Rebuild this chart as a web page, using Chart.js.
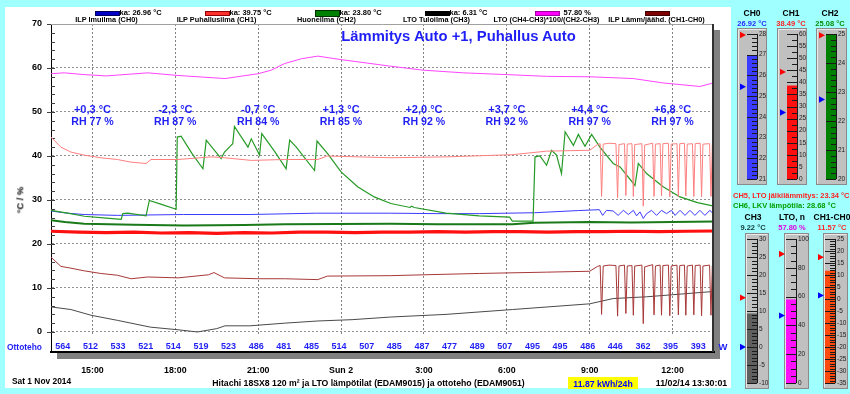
<!DOCTYPE html>
<html><head><meta charset="utf-8">
<script src="https://cdn.jsdelivr.net/npm/chart.js@4.4.1/dist/chart.umd.min.js"></script>
<style>
html,body{margin:0;padding:0;background:#a0ffff;width:850px;height:394px;overflow:hidden;font-family:"Liberation Sans",Arial,sans-serif;}
canvas{position:absolute;}
.t{position:absolute;white-space:nowrap;font-weight:bold;line-height:1;}
</style></head><body>
<canvas id="main" width="850" height="394" style="left:0;top:0;width:850px;height:394px"></canvas>
<div id="ov"></div>
<script>
// ---------- DATA ----------
const timeTickHours = [1.5, 4.5, 7.5, 10.5, 13.5, 16.5, 19.5, 22.5];
const timeTickLabels = ["15:00", "18:00", "21:00", "Sun 2", "3:00", "6:00", "9:00", "12:00"];
const outdoorTemp = ["+0,3 °C", "-2,3 °C", "-0,7 °C", "+1,3 °C", "+2,0 °C", "+3,7 °C", "+4,4 °C", "+6,8 °C"];
const outdoorRH = ["RH 77 %", "RH 87 %", "RH 84 %", "RH 85 %", "RH 92 %", "RH 92 %", "RH 97 %", "RH 97 %"];
const ottotehoW = [564, 512, 533, 521, 514, 519, 523, 486, 481, 485, 514, 507, 485, 487, 477, 489, 507, 495, 495, 486, 446, 362, 395, 393];
const yTickValues = [0,2,4,6,8,10,12,14,16,18,20,22,24,26,28,30,32,34,36,38,40,42,44,46,48,50,52,54,56,58,60,62,64,66,68,70];
const legendNames = ["ILP Imuilma (CH0)", "ILP Puhallusilma (CH1)", "Huoneilma (CH2)", "LTO Tuloilma (CH3)", "LTO (CH4-CH3)*100/(CH2-CH3)", "ILP Lämm/jäähd. (CH1-CH0)"];
const legendAverages = ["ka: 26.96 °C", "ka: 39.75 °C", "ka: 23.80 °C", "ka: 6.31 °C", "57.80 %", ""];

// hours since 13:30 Sat, value
const ch0 = [[0,27.5],[0.6,27.0],[1.2,26.7],[2.4,26.5],[4.8,26.7],[7.2,26.7],[9.6,27.0],[12.3,27.0],[14.0,26.9],[15.5,26.9],[17.5,27.1],[19.1,27.6],[19.85,27.8],[19.97,26.5],[20.11,27.65],[20.35,27.5],[20.53,26.5],[20.72,27.65],[20.9,26.7],[21.08,27.65],[21.2,26.4],[21.32,27.3],[21.44,25.8],[21.56,26.9],[21.74,27.65],[21.92,26.5],[22.1,27.65],[22.28,26.9],[22.46,27.65],[22.59,26.5],[22.77,27.65],[22.95,26.5],[23.13,27.65],[23.31,26.5],[23.49,27.65],[23.67,26.5],[23.85,27.65],[23.97,26.9]];
const ch1 = [[0,44.3],[0.36,42.0],[0.72,40.9],[1.2,40.2],[1.8,39.6],[2.4,39.2],[2.9,38.6],[3.44,38.3],[3.62,39.2],[4.6,39.2],[5.8,39.8],[6.28,39.6],[7.25,39.0],[8.45,39.2],[9.66,39.2],[10.0,40.0],[12.3,39.6],[14.3,39.8],[16.7,40.3],[17.94,41.1],[19.5,41.3],[19.78,42.6],
 [19.88,42.8],[19.93,30.8],[19.99,42.7],[20.2,42.9],[20.45,42.8],[20.51,30.5],[20.56,42.6],[20.76,42.8],[20.81,31.0],[20.86,42.7],[21.03,42.8],[21.08,30.8],[21.13,42.6],[21.39,42.8],[21.44,28.6],[21.49,42.5],[21.78,42.9],[21.83,30.8],[21.88,42.7],[22.05,42.8],[22.10,30.9],[22.15,42.8],[22.35,42.9],[22.40,30.7],[22.45,42.7],[22.66,42.8],[22.71,30.8],[22.76,42.8],[22.93,42.9],[22.98,30.9],[23.03,42.7],[23.22,42.8],[23.27,30.8],[23.32,42.8],[23.50,42.9],[23.55,30.7],[23.60,42.7],[23.84,42.8],[23.89,30.8],[23.94,42.6],[24,38.5]];
const ch2 = [[0,25.4],[0.5,25.0],[1.2,24.6],[3,24.4],[4.8,24.2],[7,24.3],[8.45,24.5],[12.3,24.6],[14,24.5],[16.7,24.5],[17.5,24.8],[19.5,25.0],[21,24.9],[22.5,25.0],[24,25.1]];
const ch3 = [[0,5.7],[0.72,5.1],[1.45,3.8],[2.4,2.65],[3.6,1.1],[4.6,0.5],[5.3,0.0],[6.0,0.76],[6.3,1.4],[7.2,1.4],[8.45,2.0],[9.66,2.5],[10.9,2.8],[12.3,3.4],[14.3,4.0],[16.7,5.1],[19.5,6.4],[20.35,7.6],[21.56,8.0],[23.97,9.2]];
const ltoEff = [[0,58.7],[0.48,58.9],[1.2,58.5],[2.0,58.2],[3.5,58.9],[4.6,58.3],[6.3,57.6],[7.5,58.7],[7.97,59.5],[8.45,61.0],[9.06,62.1],[9.66,62.7],[10.5,61.9],[11.47,61.1],[12.3,60.4],[13.48,59.5],[14.93,58.9],[16.5,58.5],[17.94,58.1],[19.51,58.0],[21.08,57.6],[22.16,56.6],[23.49,55.8],[23.97,56.6]];
const ch1MinusCh0 = [[0,17.0],[0.36,14.9],[0.72,14.5],[1.2,13.9],[1.8,13.3],[2.4,12.9],[2.9,12.1],[3.5,12.5],[4.6,12.3],[5.7,13.0],[5.9,13.5],[6.28,12.3],[7.5,12.1],[8.45,12.1],[9.66,11.9],[10.0,12.7],[12.3,12.8],[13.5,13.0],[15.5,13.3],[17.94,13.6],[19.5,13.8],[19.78,14.9],
 [19.88,15.1],[19.93,4.0],[19.99,15.0],[20.2,15.2],[20.45,15.1],[20.51,3.6],[20.56,15.0],[20.76,15.2],[20.81,4.2],[20.86,15.0],[21.03,15.1],[21.08,3.8],[21.13,15.0],[21.39,15.2],[21.44,1.9],[21.49,14.8],[21.78,15.3],[21.83,3.9],[21.88,15.0],[22.05,15.2],[22.10,3.8],[22.15,15.1],[22.35,15.2],[22.40,3.7],[22.45,15.0],[22.66,15.2],[22.71,3.9],[22.76,15.1],[22.93,15.2],[22.98,3.8],[23.03,15.0],[23.22,15.2],[23.27,3.9],[23.32,15.1],[23.50,15.2],[23.55,3.7],[23.60,15.0],[23.84,15.2],[23.89,3.8],[23.94,15.0],[24,11.6]];
const ch5 = [[0,22.9],[1,22.7],[2,22.6],[3,22.7],[4,22.5],[5,22.6],[6,22.4],[7,22.6],[8,22.5],[9,22.7],[10,22.7],[11,22.6],[12,22.7],[13,22.7],[14,22.8],[15,22.7],[16,22.8],[17,22.8],[18,22.7],[19,22.8],[20,22.8],[21,22.9],[22,22.8],[23,22.9],[24,22.95]];
const ch6 = [[0,27.65],[0.6,27.0],[1.21,26.3],[2.0,25.9],[2.54,25.6],[2.6,26.9],[2.78,27.0],[3.44,26.4],[3.56,29.9],[4.0,29.0],[4.53,27.9],[4.57,44.3],[4.71,44.5],[5.1,40.6],[5.5,37.1],[5.62,43.6],[6.16,39.4],[6.28,40.9],[6.5,42.3],[6.58,42.8],[6.64,46.7],[7.13,42.0],[7.25,43.9],[7.55,40.2],[7.63,45.1],[8.1,41.0],[8.51,37.1],[8.64,43.6],[8.88,42.0],[9.54,36.7],[9.63,43.4],[10.02,40.5],[10.5,36.4],[11.1,33.0],[11.7,30.7],[12.3,29.2],[13.0,28.3],[13.05,28.6],[13.15,28.3],[14.3,27.0],[15.5,26.4],[16.6,26.1],[16.7,25.2],[17.45,25.2],[17.52,39.8],[17.7,40.0],[17.94,37.9],[18.12,41.3],[18.3,40.2],[18.48,36.0],[18.61,45.5],[18.91,42.4],[19.09,44.9],[19.33,42.2],[19.57,44.9],[19.87,42.0],[20.35,38.3],[20.6,37.5],[21.14,33.3],[21.26,38.3],[21.56,36.0],[22.16,33.0],[22.77,30.7],[23.4,29.4],[24,28.6]];

// gauges
const gaugeTitles = ["CH0", "CH1", "CH2", "CH3", "LTO, n", "CH1-CH0"];
const gaugeValueText = ["26.92 °C", "38.49 °C", "25.08 °C", "9.22 °C", "57.80 %", "11.57 °C"];
const gaugeValues = [26.92, 38.49, 25.08, 9.22, 57.80, 11.57];
const gaugeMin = [21, 0, 20, -10, 0, -35];
const gaugeMax = [28, 60, 25, 30, 100, 25];
const gaugeMajor = [1, 5, 1, 5, 20, 5];
const gaugeMinor = [0.2, 2.5, 0.2, 1, 5, 1];
const gaugeHigh = [27.95, 44.3, 24.95, 13.7, 89.5, 17.4];
const gaugeLow = [25.45, 27.5, 22.74, 0, 46.8, 1.5];
const extraTexts = ["CH5, LTO jälkilämmitys: 23.34 °C", "CH6, LKV lämpötila: 28.68 °C"];
const footerInfo = ["Sat 1 Nov 2014", "Hitachi 18SX8 120 m² ja LTO lämpötilat (EDAM9015) ja ottoteho (EDAM9051)", "11.87 kWh/24h", "11/02/14 13:30:01"];
const chartTitle = "Lämmitys Auto +1, Puhallus Auto";

// ---------- STYLE / LAYOUT ----------
const FONT = "'Liberation Sans', Arial, sans-serif";
Chart.defaults.font.family = FONT;
const BLUE = '#1f1ff5';
const ov = document.getElementById('ov');
function txt(s, x, y, size, color, align, extra) {
  const d = document.createElement('div');
  d.className = 't';
  d.textContent = s;
  d.style.left = x + 'px';
  d.style.top = y + 'px';
  d.style.fontSize = size + 'px';
  d.style.color = color;
  const tx = align === 'center' ? '-50%' : (align === 'right' ? '-100%' : '0');
  d.style.transform = 'translate(' + tx + ',-50%)' + (extra || '');
  ov.appendChild(d);
  return d;
}
const pts = a => a.map(p => ({x: p[0], y: p[1]}));

const mainDecor = {
  id: 'mainDecor',
  beforeDraw(chart) {
    const c = chart.ctx, a = chart.chartArea;
    c.save();
    c.fillStyle = '#ffffff';
    c.fillRect(5, 7, 726, 381);
    c.fillStyle = '#808080';
    c.fillRect(a.right, a.top + 6, 6, a.bottom - a.top + 1);
    c.fillRect(a.left + 6, a.bottom, a.right - a.left, 7);
    c.restore();
  },
  beforeDatasetsDraw(chart) {
    const c = chart.ctx, a = chart.chartArea, ys = chart.scales.y;
    c.save();
    c.fillStyle = '#ffffff';
    const yb = ys.getPixelForValue(-0.7);
    c.fillRect(a.left + 1, yb, a.right - a.left - 2, a.bottom - yb - 1);
    c.strokeStyle = '#404040';
    c.lineWidth = 1;
    yTickValues.forEach(v => {
      const y = Math.round(ys.getPixelForValue(v)) + 0.5;
      c.beginPath(); c.moveTo(a.left, y); c.lineTo(a.left + 4, y); c.stroke();
      if (v % 10 === 0) { c.beginPath(); c.moveTo(a.left - 4, y); c.lineTo(a.left, y); c.stroke(); }
    });
    c.strokeStyle = '#a0a0a0';
    c.beginPath(); c.moveTo(a.left, a.top + 0.5); c.lineTo(a.right, a.top + 0.5); c.stroke();
    c.restore();
  },
  afterDatasetsDraw(chart) {
    const c = chart.ctx, a = chart.chartArea;
    c.save();
    c.fillStyle = '#303030';
    c.fillRect(a.right - 2, a.top, 2, a.bottom - a.top);
    c.restore();
  }
};

const mainChart = new Chart(document.getElementById('main'), {
  type: 'line',
  data: {
    datasets: [
      {data: pts(ltoEff), borderColor: '#ff44ff', borderWidth: 1},
      {data: pts(ch1), borderColor: '#ff7f7f', borderWidth: 1},
      {data: pts(ch6), borderColor: '#259a25', borderWidth: 1.2},
      {data: pts(ch0), borderColor: '#3a3aff', borderWidth: 1},
      {data: pts(ch2), borderColor: '#1a7a1a', borderWidth: 2},
      {data: pts(ch5), borderColor: '#ff1010', borderWidth: 3.2},
      {data: pts(ch1MinusCh0), borderColor: '#a83838', borderWidth: 1},
      {data: pts(ch3), borderColor: '#4a4a4a', borderWidth: 1}
    ]
  },
  options: {
    responsive: false, animation: false, devicePixelRatio: 1,
    layout: {padding: {left: 0, top: 24, right: 136, bottom: 0}},
    elements: {point: {radius: 0}, line: {tension: 0}},
    plugins: {legend: {display: false}, tooltip: {enabled: false}},
    scales: {
      x: {
        type: 'linear', min: 0, max: 24,
        afterBuildTicks: s => { s.ticks = timeTickHours.map(v => ({value: v})); },
        afterFit: s => { s.height = 42; },
        ticks: {autoSkip: false, maxRotation: 0, padding: 13, color: '#000',
          font: {size: 8.8, weight: 'bold'},
          callback: (v, i) => timeTickLabels[i]},
        grid: {color: '#808080', lineWidth: 1, drawTicks: false},
        border: {display: true, color: '#000', width: 2, dash: [2, 2]}
      },
      y: {
        min: -4.55, max: 70,
        afterBuildTicks: s => { s.ticks = yTickValues.map(v => ({value: v})); },
        afterFit: s => { s.width = 51; },
        ticks: {autoSkip: false, padding: 9, color: '#000', font: {size: 9, weight: 'bold'},
          callback: v => (v % 10 === 0 ? String(v) : '')},
        grid: {drawTicks: false, lineWidth: 1,
          color: ctx => (ctx.tick && ctx.tick.value % 10 === 0 && ctx.tick.value < 70) ? '#909090' : 'rgba(0,0,0,0)'},
        border: {display: true, color: '#000', width: 1, dash: [2, 2]}
      }
    }
  },
  plugins: [mainDecor]
});

// texts inside main plot positioned through the scales
(function () {
  const xs = mainChart.scales.x, ys = mainChart.scales.y, a = mainChart.chartArea;
  txt(chartTitle, xs.getPixelForValue(14.75), ys.getPixelForValue(67.3), 14.8, BLUE, 'center');
  timeTickHours.forEach((h, i) => {
    txt(outdoorTemp[i], xs.getPixelForValue(h), ys.getPixelForValue(50.7), 11, BLUE, 'center');
    txt(outdoorRH[i], xs.getPixelForValue(h), ys.getPixelForValue(48.0), 10.6, BLUE, 'center');
  });
  ottotehoW.forEach((w, i) => {
    txt(String(w), xs.getPixelForValue(i + 0.43), 346, 9, BLUE, 'center');
  });
  txt('Ottoteho', 24.5, 347, 8.4, BLUE, 'center');
  txt('W', a.right + 9, 347, 9.5, BLUE, 'center');
  const yl = txt('°C / %', 20, 200, 9.4, '#000', 'center');
  yl.style.transform = 'translate(-50%,-50%) rotate(-90deg)';
})();

// legend
const legendColors = ['#0000c8', '#ff3030', '#008000', '#000000', '#ff00ff', '#800000'];
const legendBorders = ['#000060', '#900000', '#003000', '#000000', '#a000a0', '#400000'];
legendNames.forEach((n, i) => {
  const cx = 106.5 + 110 * i;
  const sw = document.createElement('div');
  const h = i === 2 ? 5 : 3;
  sw.style.cssText = 'position:absolute;left:' + (cx - 12) + 'px;top:' + (12 - h / 2) + 'px;width:23px;height:' + h + 'px;background:' + legendColors[i] + ';border:1px solid ' + legendBorders[i] + ';box-sizing:content-box';
  ov.appendChild(sw);
  if (legendAverages[i]) txt(legendAverages[i], cx + (i === 4 ? 17 : 13), 12.5, 7.5, '#000', 'left');
  txt(n, cx, 19.5, 7.3, '#000', 'center');
});

// footer
txt(footerInfo[0], 12, 381, 8.4, '#000', 'left');
txt(footerInfo[1], 368.5, 383, 8.7, '#000', 'center');
const yb = document.createElement('div');
yb.style.cssText = 'position:absolute;left:568px;top:377px;width:70px;height:12px;background:#ffff00';
ov.appendChild(yb);
txt(footerInfo[2], 603, 383.5, 8.7, '#0000ff', 'center');
txt(footerInfo[3], 691.5, 383, 8.8, '#000', 'center');

// right panel gauges
const gaugeBarLeft = [747, 787, 826, 747, 786, 825];
const gaugeBox = [[737, 28, 30, 157], [777, 28, 30, 157], [816, 28, 31, 157], [745, 233, 24, 156], [784, 233, 25, 156], [823, 233, 25, 156]];
const gaugeScaleTop = [33.3, 33.3, 33.3, 237.7, 237.7, 237.7];
const gaugeScaleBottom = [182.7, 182.7, 182.7, 386.7, 386.7, 386.7];
const gaugeTitlePos = [[752, 13.3, 24], [791, 13.3, 24], [830, 13.3, 24], [753, 216.7, 228], [792, 216.7, 228], [832, 216.7, 228]];
const gaugeBarColors = ['#3c3cff', '#ff1010', '#008000', '#606060', '#ff10ff', '#ff4a10'];
const gaugeValueColors = ['#2828ff', '#ff2020', '#009000', '#103838', '#e000e0', '#ff2a2a'];

gaugeTitles.forEach((t, i) => {
  const tp = gaugeTitlePos[i];
  txt(t, tp[0], tp[1], 8.5, '#000', 'center');
  txt(gaugeValueText[i], tp[0], tp[2], 7.5, gaugeValueColors[i], 'center');
  const box = gaugeBox[i];
  const cl = gaugeBarLeft[i] - 12, cw = 36, ch = box[3];
  const cv = document.createElement('canvas');
  cv.width = cw; cv.height = ch;
  cv.style.cssText = 'left:' + cl + 'px;top:' + box[1] + 'px;width:' + cw + 'px;height:' + ch + 'px';
  document.body.appendChild(cv);
  const min = gaugeMin[i], max = gaugeMax[i], minor = gaugeMinor[i], major = gaugeMajor[i];
  const tickVals = [];
  for (let k = 0; min + k * minor <= max + 1e-9; k++) tickVals.push(Math.round((min + k * minor) * 1000) / 1000);
  const isMajor = v => Math.abs(v / major - Math.round(v / major)) < 1e-6;
  const gp = {
    id: 'gp' + i,
    beforeDraw(chart) {
      const c = chart.ctx;
      const bx = box[0] - cl;
      c.save();
      c.fillStyle = '#c0c0c0';
      c.fillRect(bx, 0, box[2], ch);
      c.strokeStyle = '#8a8a8a';
      c.lineWidth = 1;
      c.strokeRect(bx + 0.5, 0.5, box[2] - 1, ch - 1);
      c.strokeStyle = '#e8e8e8';
      c.beginPath(); c.moveTo(bx + 1.5, ch - 1.5); c.lineTo(bx + 1.5, 1.5); c.lineTo(bx + box[2] - 1.5, 1.5); c.stroke();
      c.restore();
    },
    afterDatasetsDraw(chart) {
      const c = chart.ctx, a = chart.chartArea, s = chart.scales.y;
      c.save();
      c.lineWidth = 1;
      c.strokeStyle = '#1a1a1a';
      tickVals.forEach(v => {
        const y = Math.round(s.getPixelForValue(v)) + 0.5;
        c.beginPath();
        c.moveTo(isMajor(v) ? a.left : a.right - 5, y);
        c.lineTo(a.right, y);
        c.stroke();
      });
      c.beginPath(); c.moveTo(a.right + 0.5, a.top); c.lineTo(a.right + 0.5, a.bottom); c.stroke();
      const tri = (v, fill) => {
        const y = s.getPixelForValue(v);
        c.fillStyle = fill;
        c.beginPath(); c.moveTo(a.left - 1, y); c.lineTo(a.left - 7, y - 3.2); c.lineTo(a.left - 7, y + 3.2); c.closePath(); c.fill();
      };
      tri(gaugeHigh[i], '#ff0000');
      tri(gaugeLow[i], '#0000ff');
      c.restore();
    }
  };
  new Chart(cv, {
    type: 'bar',
    data: {labels: [''], datasets: [{data: [[min, gaugeValues[i]]], backgroundColor: gaugeBarColors[i], borderWidth: 0, barPercentage: 1, categoryPercentage: 1}]},
    options: {
      responsive: false, animation: false, devicePixelRatio: 1,
      layout: {padding: {left: 12, right: 0, top: gaugeScaleTop[i] - box[1], bottom: box[1] + box[3] - gaugeScaleBottom[i]}},
      plugins: {legend: {display: false}, tooltip: {enabled: false}},
      scales: {
        x: {display: false},
        y: {position: 'right', min: min, max: max,
          grid: {display: false, drawTicks: false}, border: {display: false},
          afterBuildTicks: s => { s.ticks = tickVals.map(v => ({value: v})); },
          afterFit: s => { s.width = 14; },
          ticks: {autoSkip: false, padding: 2, color: '#202020', font: {size: 6.5},
            callback: v => (isMajor(v) ? String(v) : '')}
        }
      }
    },
    plugins: [gp]
  });
});
txt(extraTexts[0], 733, 196, 7.5, '#ff2020', 'left');
txt(extraTexts[1], 733, 206, 7.5, '#00a000', 'left');
</script>
</body></html>
